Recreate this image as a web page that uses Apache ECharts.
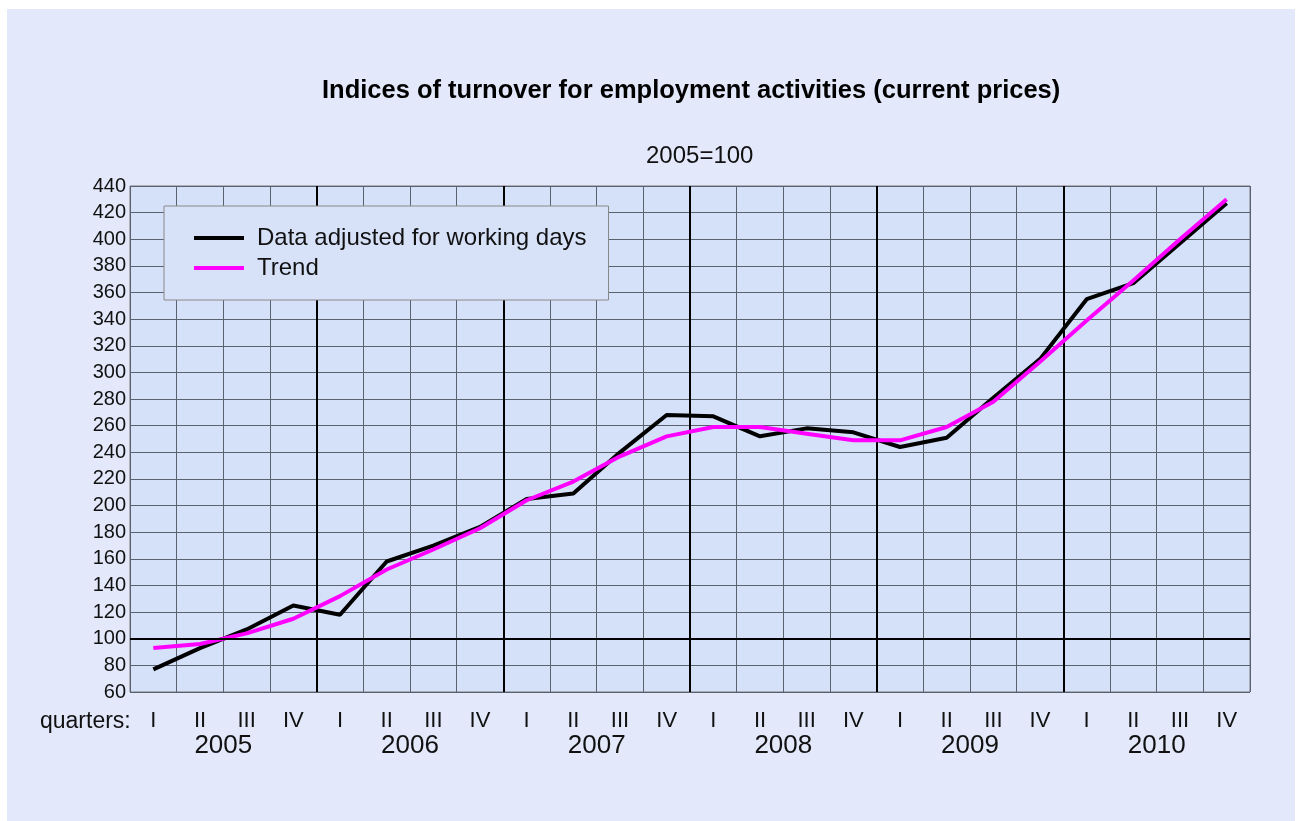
<!DOCTYPE html>
<html>
<head>
<meta charset="utf-8">
<script src="https://cdn.jsdelivr.net/npm/echarts@6/dist/echarts.min.js"></script>
<style>
  html, body { margin: 0; padding: 0; background: #fff; }
  #main { width: 1297px; height: 821px; }
</style>
</head>
<body>
<div id="main"></div>
<script>
// quarters 2005 I .. 2010 IV
const quarters = ['I', 'II', 'III', 'IV', 'I', 'II', 'III', 'IV', 'I', 'II', 'III', 'IV',
                  'I', 'II', 'III', 'IV', 'I', 'II', 'III', 'IV', 'I', 'II', 'III', 'IV']
const years = ['2005', '2006', '2007', '2008', '2009', '2010']
const adjusted = [77, 93, 107, 125, 118, 158, 170, 184, 205, 209, 240, 268,
                  267, 252, 258, 255, 244, 251, 281, 310, 355, 367, 397, 427]
const trend = [93, 96, 104, 115, 132, 152, 167, 183, 204, 218, 237, 252,
               259, 259, 254, 249, 249, 259, 278, 308, 339, 369, 400, 430]

const font = 'Liberation Sans, Arial, Helvetica, sans-serif'
const chart = echarts.init(document.getElementById('main'))

chart.setOption({
    backgroundColor: '#ffffff',
    animation: false,
    textStyle: { fontFamily: font },
    graphic: [
        { type: 'rect', z: -10, silent: true, shape: { x: 7, y: 9, width: 1288, height: 812 }, style: { fill: '#e3e9fb' } },
        { type: 'text', left: 40, top: 710, style: { text: 'quarters:', font: '23px ' + font, fill: '#111' } }
    ],
    title: [
        { text: 'Indices of turnover for employment activities (current prices)', left: 317, top: 73,
          textStyle: { fontSize: 25.5, fontWeight: 'bold', color: '#000', fontFamily: font } },
        { text: '2005=100', left: 641, top: 139,
          textStyle: { fontSize: 24, fontWeight: 'normal', color: '#111', fontFamily: font } }
    ],
    legend: {
        left: 164, top: 206, orient: 'vertical',
        backgroundColor: '#d7e2f9', borderColor: '#888', borderWidth: 1,
        padding: [20, 22, 20, 30], itemGap: 6, itemWidth: 50, itemHeight: 4,
        textStyle: { fontSize: 24, color: '#111', fontFamily: font, padding: [0, 0, 0, 8] },
        data: [
            { name: 'Data adjusted for working days', icon: 'rect' },
            { name: 'Trend', icon: 'rect' }
        ]
    },
    grid: {
        left: 130, right: 47, top: 186, bottom: 129, show: true,
        backgroundColor: '#d5e1f9', borderColor: '#777', borderWidth: 1
    },
    xAxis: [
        { type: 'category', data: quarters, boundaryGap: true,
          axisLine: { show: false }, axisTick: { show: false },
          axisLabel: { interval: 0, fontSize: 22, color: '#111', margin: 18 },
          splitLine: { show: true, interval: 0, lineStyle: { color: '#5a6270', width: 1 } } },
        { type: 'category', data: years, position: 'bottom', boundaryGap: true,
          axisLine: { show: false }, axisTick: { show: false },
          axisLabel: { interval: 0, fontSize: 26, color: '#111', margin: 41 },
          splitLine: { show: false } },
        { type: 'value', min: 0, max: 6, interval: 1, position: 'top',
          axisLine: { show: false }, axisTick: { show: false }, axisLabel: { show: false },
          splitLine: { show: true, showMinLine: false, showMaxLine: false, lineStyle: { color: '#000', width: 2 } } }
    ],
    yAxis: {
        type: 'value', min: 60, max: 440, interval: 20,
        axisLine: { show: false }, axisTick: { show: false },
        axisLabel: { fontSize: 20, color: '#111', margin: 4 },
        splitLine: { show: true, lineStyle: { color: '#5a6270', width: 1 } }
    },
    series: [
        { name: 'base', type: 'line', data: [], z: 1, silent: true,
          markLine: { silent: true, symbol: 'none', label: { show: false },
                      lineStyle: { color: '#000', width: 2, type: 'solid' },
                      data: [{ yAxis: 100 }] } },
        { name: 'Data adjusted for working days', type: 'line', data: adjusted,
          symbol: 'none', lineStyle: { color: '#000', width: 4 }, itemStyle: { color: '#000' } },
        { name: 'Trend', type: 'line', data: trend,
          symbol: 'none', lineStyle: { color: '#ff00ff', width: 4 }, itemStyle: { color: '#ff00ff' } }
    ]
})
</script>
</body>
</html>
